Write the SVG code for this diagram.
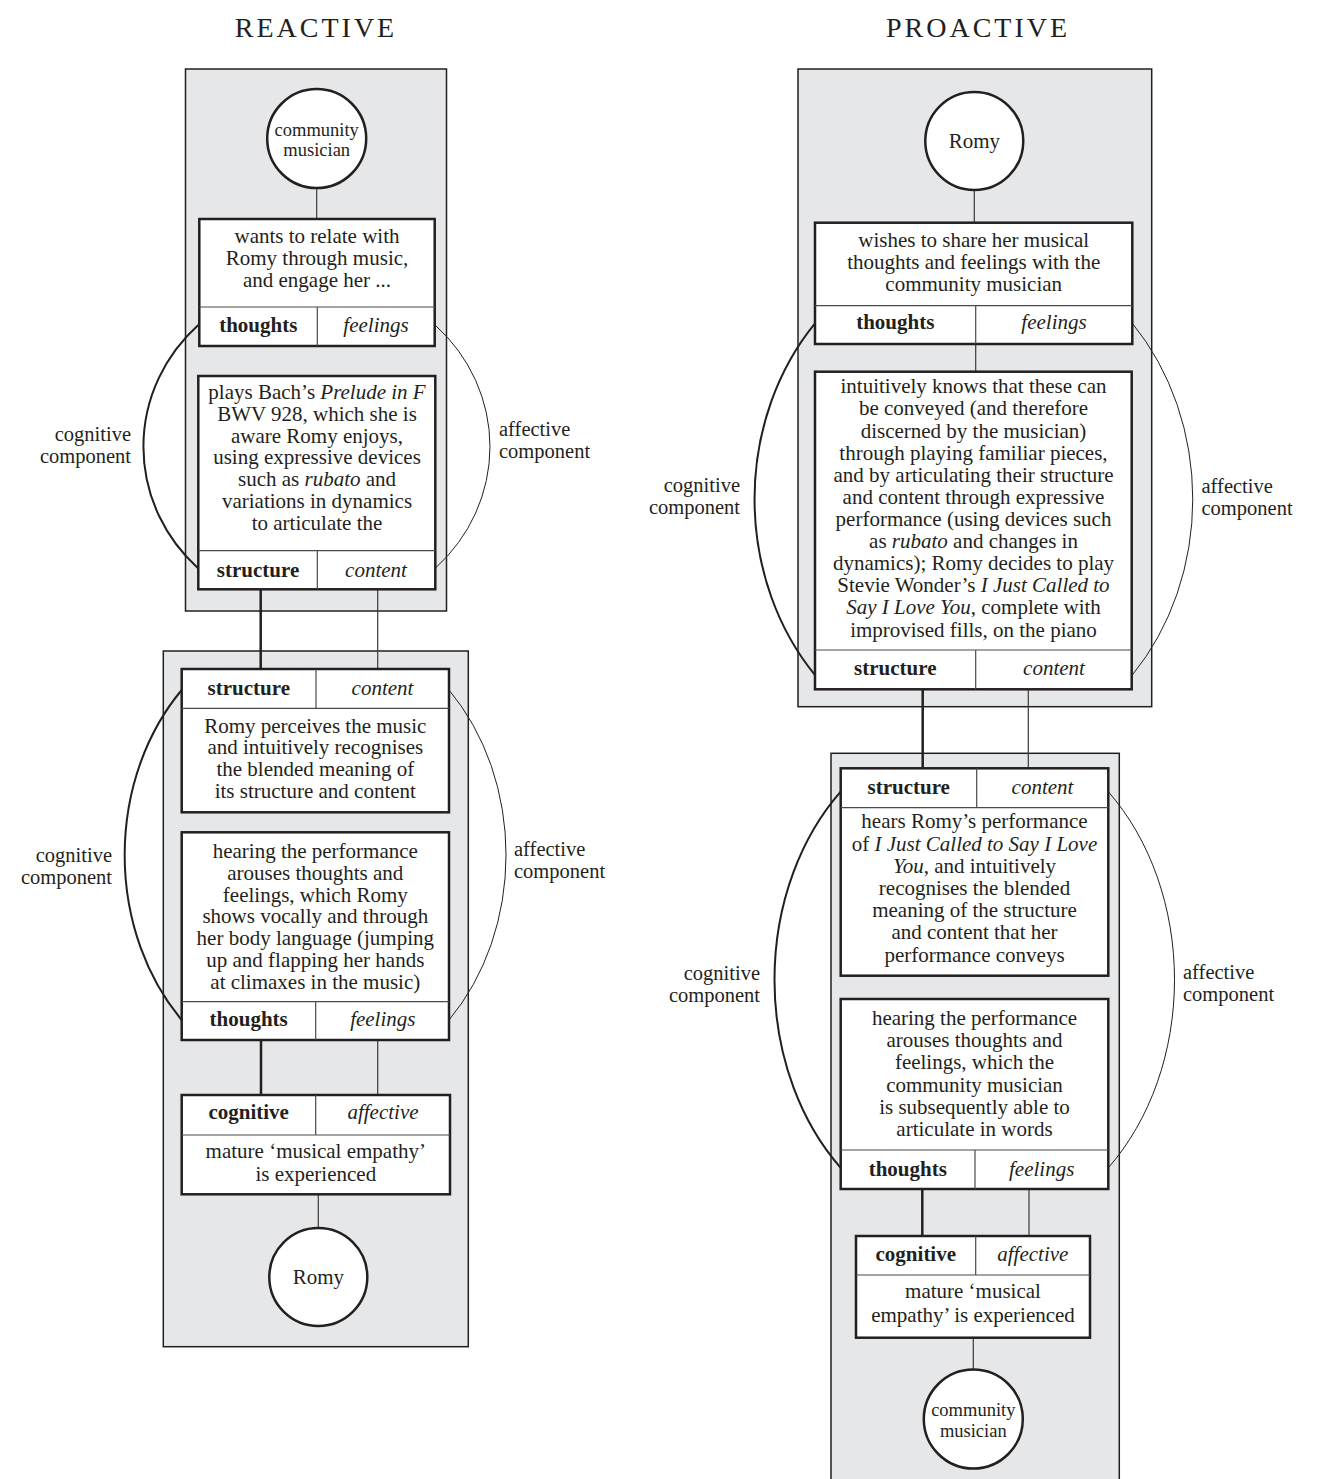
<svg xmlns="http://www.w3.org/2000/svg" width="1321" height="1479" viewBox="0 0 1321 1479">
  <style>
    .panel { fill: #e6e7e8; stroke: #231f20; stroke-width: 1.5; }
    .box { fill: #ffffff; stroke: #231f20; stroke-width: 2.5; }
    .circ { fill: #ffffff; stroke: #231f20; stroke-width: 2.5; }
    .div { stroke: #4a4a4a; stroke-width: 1.2; fill: none; }
    .thin { stroke: #3a3a3a; stroke-width: 1.2; fill: none; }
    .thick { stroke: #231f20; stroke-width: 2.5; fill: none; }
    .arcL { fill: none; stroke: #231f20; stroke-width: 2; }
    .arcR { fill: none; stroke: #231f20; stroke-width: 1; }
    text { font-family: "Liberation Serif", "Times New Roman", serif; fill: #231f20; font-size: 21px; text-anchor: middle; }
    .b { font-weight: bold; }
    .i { font-style: italic; }
    .sm { font-size: 18.5px; }
    .lbl { font-size: 20.5px; }
    .title { font-size: 28px; letter-spacing: 3px; }
    .end { text-anchor: end; }
    .start { text-anchor: start; }
  </style>

  <!-- column headings -->
  <text class="title" x="316" y="37">REACTIVE</text>
  <text class="title" x="978" y="37">PROACTIVE</text>

  <!-- grey stage panels -->
  <g id="panels">
    <rect class="panel" x="185.5" y="69" width="261" height="542"/>
    <rect class="panel" x="163.3" y="651" width="305" height="695.7"/>
    <rect class="panel" x="798" y="69" width="353.7" height="637.7"/>
    <rect class="panel" x="831" y="753.3" width="288.3" height="740"/>
  </g>

  <!-- cognitive / affective component arcs with their labels -->
  <g id="components">
    <path class="arcL" d="M198.3,325 A173.3,166.7 0 0 0 198.3,568.4"/>
    <path class="arcR" d="M435.1,325 A173.3,166.7 0 0 1 435.1,568.4"/>
    <text class="lbl end" x="131" y="441">cognitive</text>
    <text class="lbl end" x="131" y="463">component</text>
    <text class="lbl start" x="499" y="436">affective</text>
    <text class="lbl start" x="499" y="458">component</text>

    <path class="arcL" d="M181.7,690 A192,232 0 0 0 181.7,1020"/>
    <path class="arcR" d="M449,690 A192,232 0 0 1 449,1020"/>
    <text class="lbl end" x="112" y="862">cognitive</text>
    <text class="lbl end" x="112" y="884">component</text>
    <text class="lbl start" x="514" y="856">affective</text>
    <text class="lbl start" x="514" y="878">component</text>

    <path class="arcL" d="M815,323.3 A219.2,255 0 0 0 815,675"/>
    <path class="arcR" d="M1132.3,323.3 A219.2,255 0 0 1 1132.3,675"/>
    <text class="lbl end" x="740" y="491.5">cognitive</text>
    <text class="lbl end" x="740" y="513.5">component</text>
    <text class="lbl start" x="1201.5" y="492.5">affective</text>
    <text class="lbl start" x="1201.5" y="514.5">component</text>

    <path class="arcL" d="M840.7,791.7 A200,253 0 0 0 840.7,1167.8"/>
    <path class="arcR" d="M1108.3,791.7 A200,253 0 0 1 1108.3,1167.8"/>
    <text class="lbl end" x="760" y="980">cognitive</text>
    <text class="lbl end" x="760" y="1002">component</text>
    <text class="lbl start" x="1183" y="979">affective</text>
    <text class="lbl start" x="1183" y="1001">component</text>
  </g>

  <!-- links between nodes: thick = cognitive strand, thin = affective strand -->
  <g id="connectors">
    <line class="thin" x1="316.7" y1="188" x2="316.7" y2="219"/>
    <line class="thick" x1="260.7" y1="589.3" x2="260.7" y2="669"/>
    <line class="thin" x1="377.7" y1="589.3" x2="377.7" y2="669"/>
    <line class="thick" x1="261" y1="1040" x2="261" y2="1095"/>
    <line class="thin" x1="377.7" y1="1040" x2="377.7" y2="1095"/>
    <line class="thin" x1="318.3" y1="1194.3" x2="318.3" y2="1228"/>

    <line class="thin" x1="974.3" y1="190" x2="974.3" y2="222.7"/>
    <line class="thin" x1="975.7" y1="344" x2="975.7" y2="371.7"/>
    <line class="thick" x1="922.7" y1="689.3" x2="922.7" y2="768.3"/>
    <line class="thin" x1="1028.3" y1="689.3" x2="1028.3" y2="768.3"/>
    <line class="thick" x1="922.3" y1="1189" x2="922.3" y2="1236"/>
    <line class="thin" x1="1029" y1="1189" x2="1029" y2="1236"/>
    <line class="thin" x1="973.3" y1="1337.7" x2="973.3" y2="1369.3"/>
  </g>

  <!-- REACTIVE column -->
  <g id="r-musician">
    <circle class="circ" cx="316.7" cy="138.5" r="49.5"/>
    <text class="sm" x="316.7" y="135.5">community</text>
    <text class="sm" x="316.7" y="156">musician</text>
  </g>

  <g id="r-intent">
    <rect class="box" x="199.3" y="219" width="235.4" height="127"/>
    <line class="div" x1="199.3" y1="307" x2="434.7" y2="307"/>
    <line class="div" x1="317.3" y1="307" x2="317.3" y2="346"/>
    <text x="317" y="243.3">wants to relate with</text>
    <text x="317" y="265.3">Romy through music,</text>
    <text x="317" y="287.3">and engage her ...</text>
    <text class="b" x="258.3" y="332">thoughts</text>
    <text class="i" x="376" y="332">feelings</text>
  </g>

  <g id="r-performance">
    <rect class="box" x="198.3" y="376" width="237" height="213.3"/>
    <line class="div" x1="198.3" y1="550.7" x2="435.3" y2="550.7"/>
    <line class="div" x1="317.3" y1="550.7" x2="317.3" y2="589.3"/>
    <text x="317" y="399.3">plays Bach’s <tspan class="i">Prelude in F</tspan></text>
    <text x="317" y="421">BWV 928, which she is</text>
    <text x="317" y="442.7">aware Romy enjoys,</text>
    <text x="317" y="464.4">using expressive devices</text>
    <text x="317" y="486.1">such as <tspan class="i">rubato</tspan> and</text>
    <text x="317" y="507.8">variations in dynamics</text>
    <text x="317" y="529.5">to articulate the</text>
    <text class="b" x="258" y="577">structure</text>
    <text class="i" x="376" y="577">content</text>
  </g>

  <g id="r-perception">
    <rect class="box" x="181.7" y="669" width="267.3" height="143.3"/>
    <line class="div" x1="181.7" y1="708.3" x2="449" y2="708.3"/>
    <line class="div" x1="316" y1="669" x2="316" y2="708.3"/>
    <text class="b" x="248.8" y="695">structure</text>
    <text class="i" x="382.5" y="695">content</text>
    <text x="315.3" y="732.7">Romy perceives the music</text>
    <text x="315.3" y="754.4">and intuitively recognises</text>
    <text x="315.3" y="776.1">the blended meaning of</text>
    <text x="315.3" y="797.8">its structure and content</text>
  </g>

  <g id="r-response">
    <rect class="box" x="181.7" y="832.3" width="267.3" height="207.7"/>
    <line class="div" x1="181.7" y1="1001.7" x2="449" y2="1001.7"/>
    <line class="div" x1="315.7" y1="1001.7" x2="315.7" y2="1040"/>
    <text x="315.3" y="858.3">hearing the performance</text>
    <text x="315.3" y="880">arouses thoughts and</text>
    <text x="315.3" y="901.7">feelings, which Romy</text>
    <text x="315.3" y="923.4">shows vocally and through</text>
    <text x="315.3" y="945.1">her body language (jumping</text>
    <text x="315.3" y="966.8">up and flapping her hands</text>
    <text x="315.3" y="988.5">at climaxes in the music)</text>
    <text class="b" x="248.7" y="1025.5">thoughts</text>
    <text class="i" x="382.8" y="1025.5">feelings</text>
  </g>

  <g id="r-empathy">
    <rect class="box" x="181.7" y="1095" width="268.3" height="99.3"/>
    <line class="div" x1="181.7" y1="1135" x2="450" y2="1135"/>
    <line class="div" x1="315.7" y1="1095" x2="315.7" y2="1135"/>
    <text class="b" x="248.7" y="1118.5">cognitive</text>
    <text class="i" x="383" y="1118.5">affective</text>
    <text x="315.8" y="1158.3">mature ‘musical empathy’</text>
    <text x="315.8" y="1180.5">is experienced</text>
  </g>

  <g id="r-romy">
    <circle class="circ" cx="318.3" cy="1277" r="49"/>
    <text x="318.3" y="1284">Romy</text>
  </g>

  <!-- PROACTIVE column -->
  <g id="p-romy">
    <circle class="circ" cx="974.3" cy="141" r="49"/>
    <text x="974.3" y="148.3">Romy</text>
  </g>

  <g id="p-intent">
    <rect class="box" x="815" y="222.7" width="317.3" height="121.3"/>
    <line class="div" x1="815" y1="305.7" x2="1132.3" y2="305.7"/>
    <line class="div" x1="975.7" y1="305.7" x2="975.7" y2="344"/>
    <text x="973.7" y="246.7">wishes to share her musical</text>
    <text x="973.7" y="268.5">thoughts and feelings with the</text>
    <text x="973.7" y="290.5">community musician</text>
    <text class="b" x="895.3" y="328.5">thoughts</text>
    <text class="i" x="1054" y="328.5">feelings</text>
  </g>

  <g id="p-performance">
    <rect class="box" x="815" y="371.7" width="316.7" height="317.6"/>
    <line class="div" x1="815" y1="650" x2="1131.7" y2="650"/>
    <line class="div" x1="975.7" y1="650" x2="975.7" y2="689.3"/>
    <text x="973.5" y="393.3">intuitively knows that these can</text>
    <text x="973.5" y="415.4">be conveyed (and therefore</text>
    <text x="973.5" y="437.5">discerned by the musician)</text>
    <text x="973.5" y="459.6">through playing familiar pieces,</text>
    <text x="973.5" y="481.7">and by articulating their structure</text>
    <text x="973.5" y="503.8">and content through expressive</text>
    <text x="973.5" y="525.9">performance (using devices such</text>
    <text x="973.5" y="548">as <tspan class="i">rubato</tspan> and changes in</text>
    <text x="973.5" y="570.1">dynamics); Romy decides to play</text>
    <text x="973.5" y="592.2">Stevie Wonder’s <tspan class="i">I Just Called to</tspan></text>
    <text x="973.5" y="614.3"><tspan class="i">Say I Love You</tspan>, complete with</text>
    <text x="973.5" y="636.5">improvised fills, on the piano</text>
    <text class="b" x="895.3" y="675">structure</text>
    <text class="i" x="1054" y="675">content</text>
  </g>

  <g id="p-perception">
    <rect class="box" x="840.7" y="768.3" width="267.6" height="207.4"/>
    <line class="div" x1="840.7" y1="807.7" x2="1108.3" y2="807.7"/>
    <line class="div" x1="976.7" y1="768.3" x2="976.7" y2="807.7"/>
    <text class="b" x="908.7" y="793.5">structure</text>
    <text class="i" x="1042.5" y="793.5">content</text>
    <text x="974.5" y="828.3">hears Romy’s performance</text>
    <text x="974.5" y="850.5">of <tspan class="i">I Just Called to Say I Love</tspan></text>
    <text x="974.5" y="872.7"><tspan class="i">You</tspan>, and intuitively</text>
    <text x="974.5" y="894.9">recognises the blended</text>
    <text x="974.5" y="917.1">meaning of the structure</text>
    <text x="974.5" y="939.3">and content that her</text>
    <text x="974.5" y="961.5">performance conveys</text>
  </g>

  <g id="p-response">
    <rect class="box" x="840.7" y="999" width="267.6" height="190"/>
    <line class="div" x1="840.7" y1="1150" x2="1108.3" y2="1150"/>
    <line class="div" x1="975" y1="1150" x2="975" y2="1189"/>
    <text x="974.5" y="1025">hearing the performance</text>
    <text x="974.5" y="1047.2">arouses thoughts and</text>
    <text x="974.5" y="1069.4">feelings, which the</text>
    <text x="974.5" y="1091.6">community musician</text>
    <text x="974.5" y="1113.8">is subsequently able to</text>
    <text x="974.5" y="1136">articulate in words</text>
    <text class="b" x="907.8" y="1175.5">thoughts</text>
    <text class="i" x="1041.7" y="1175.5">feelings</text>
  </g>

  <g id="p-empathy">
    <rect class="box" x="856" y="1236" width="234" height="101.7"/>
    <line class="div" x1="856" y1="1275" x2="1090" y2="1275"/>
    <line class="div" x1="975.7" y1="1236" x2="975.7" y2="1275"/>
    <text class="b" x="915.8" y="1260.5">cognitive</text>
    <text class="i" x="1032.8" y="1260.5">affective</text>
    <text x="973" y="1298.3">mature ‘musical</text>
    <text x="973" y="1321.5">empathy’ is experienced</text>
  </g>

  <g id="p-musician">
    <circle class="circ" cx="973.3" cy="1419" r="49.5"/>
    <text class="sm" x="973.3" y="1416">community</text>
    <text class="sm" x="973.3" y="1437">musician</text>
  </g>
</svg>
